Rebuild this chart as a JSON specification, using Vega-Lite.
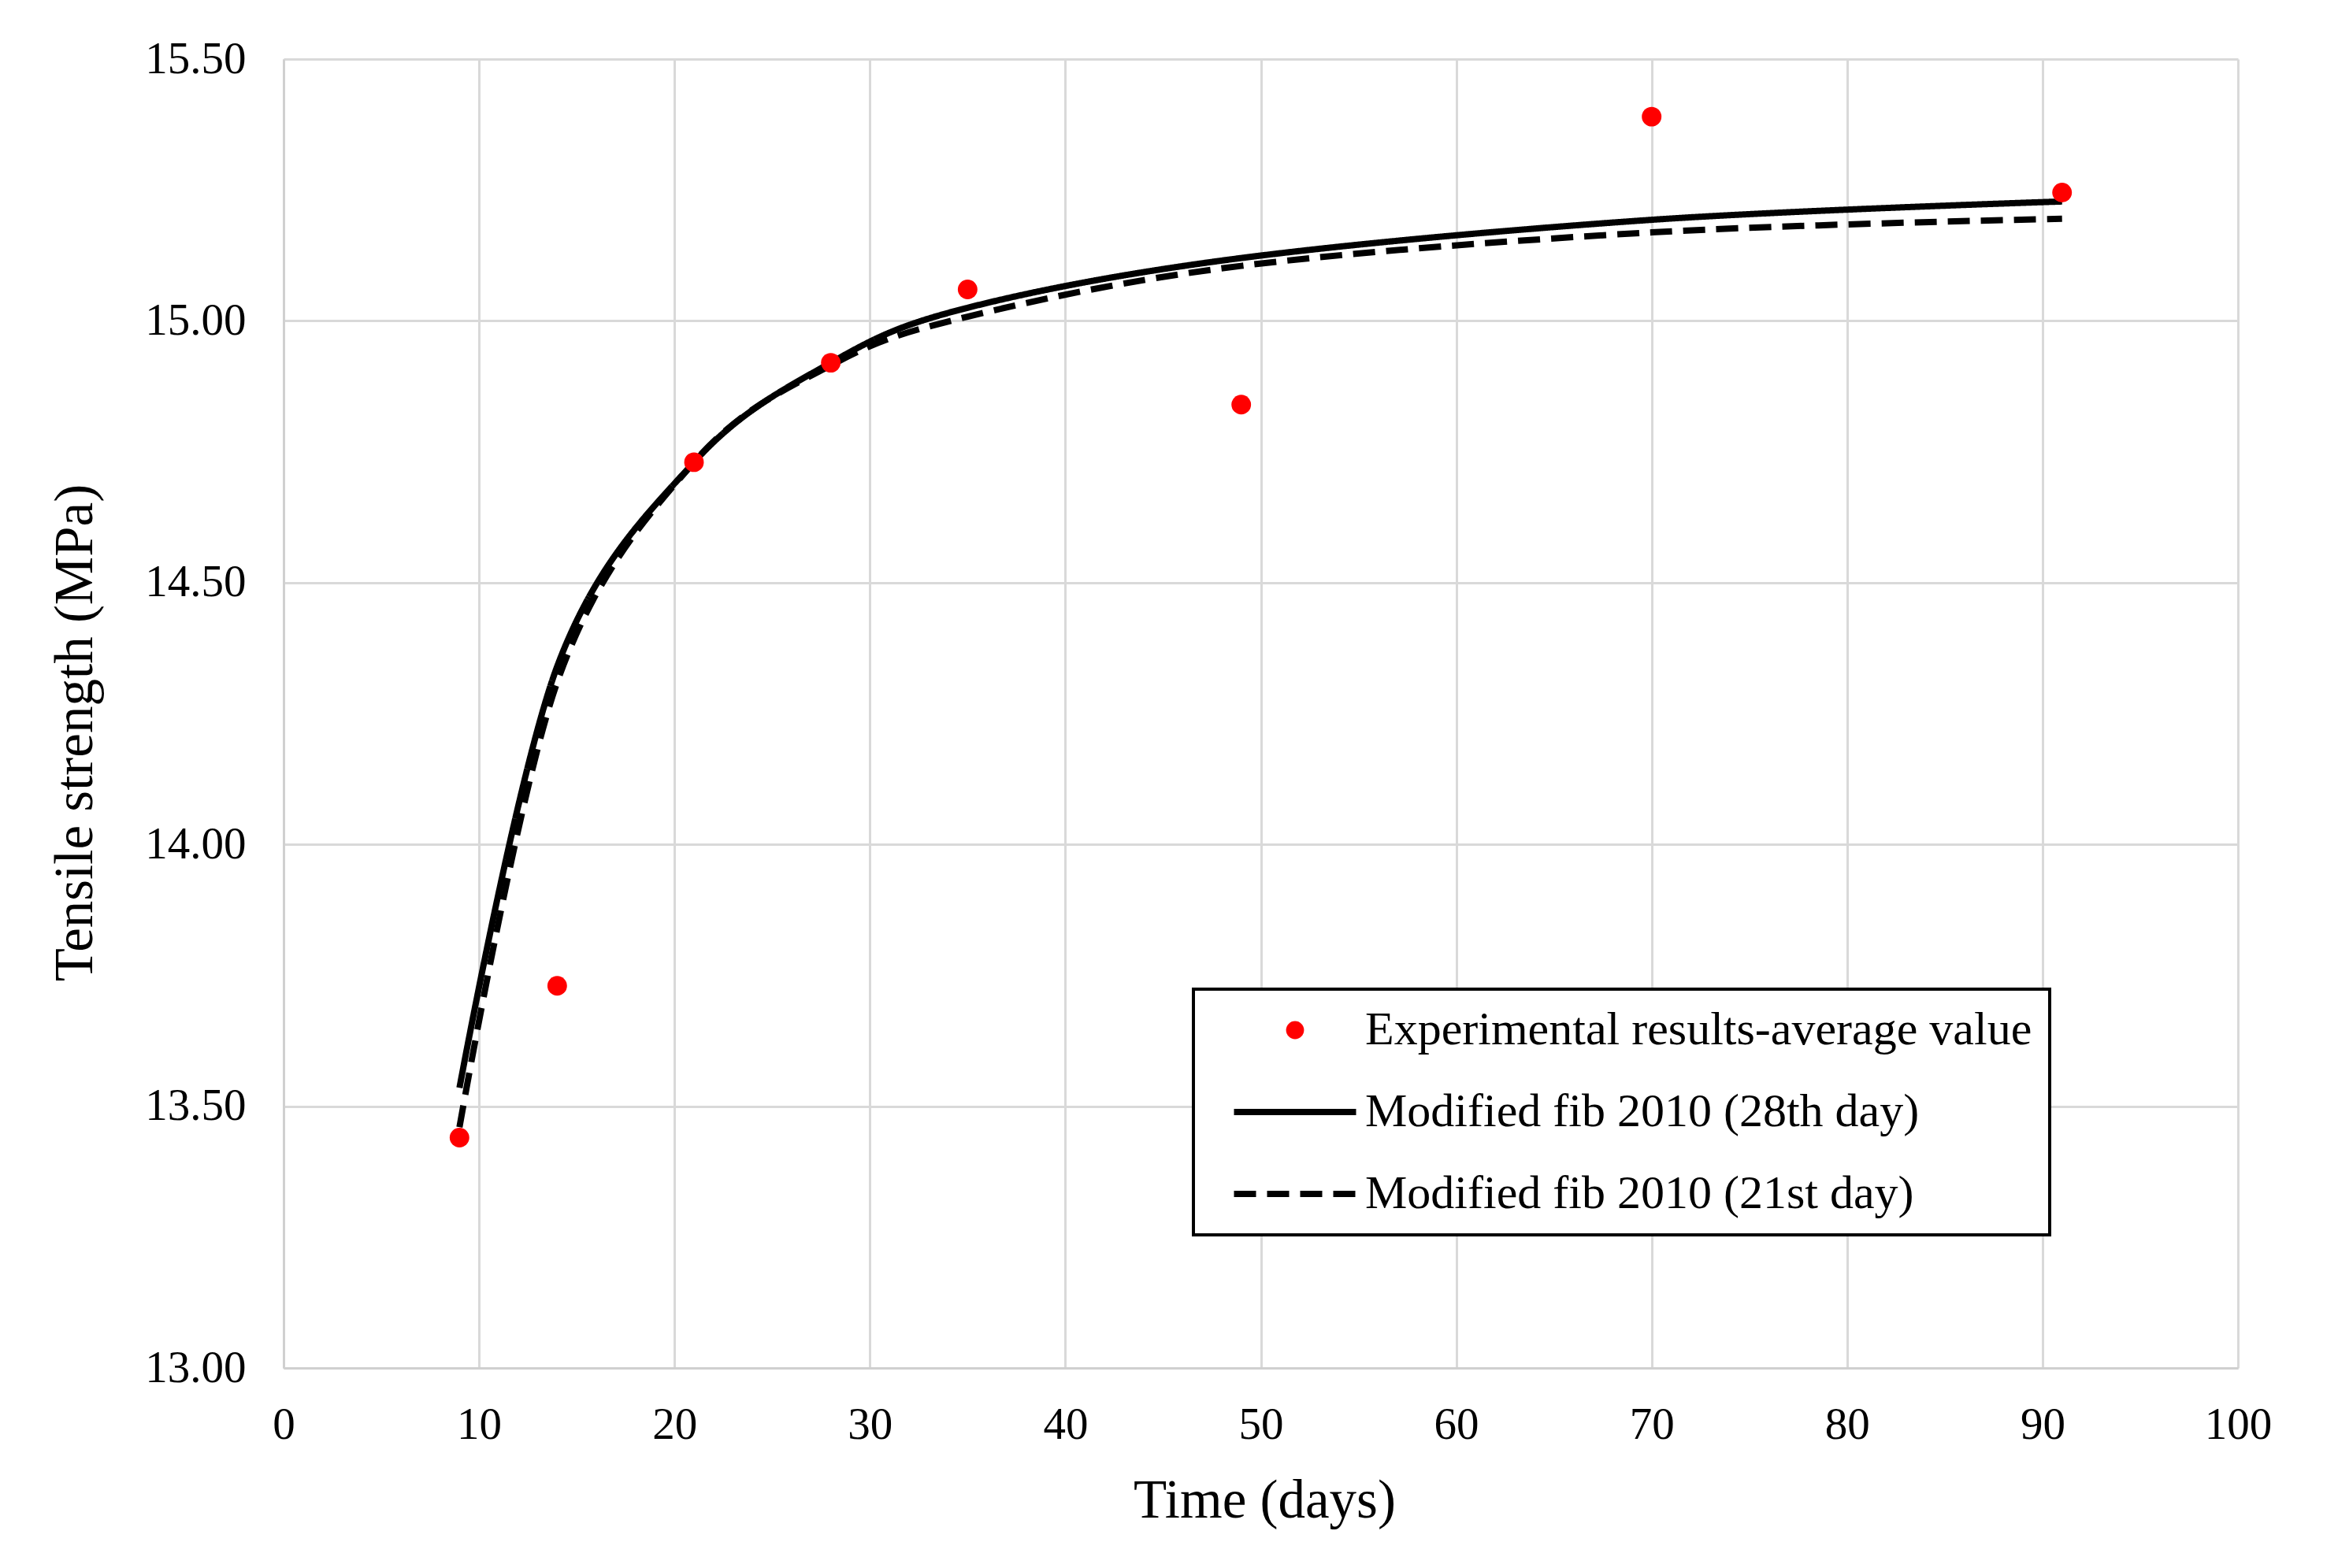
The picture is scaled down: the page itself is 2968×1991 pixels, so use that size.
{
  "$schema": "https://vega.github.io/schema/vega-lite/v6.json",
  "width": 2481,
  "height": 1662,
  "autosize": {"type": "none"},
  "padding": {"left": 360, "top": 75, "right": 127, "bottom": 254},
  "background": "white",
  "datasets": {
    "exp": [
      {"t": 9, "v": 13.44, "series": "Experimental results-average value"},
      {"t": 14, "v": 13.73, "series": "Experimental results-average value"},
      {"t": 21, "v": 14.73, "series": "Experimental results-average value"},
      {"t": 28, "v": 14.92, "series": "Experimental results-average value"},
      {"t": 35, "v": 15.06, "series": "Experimental results-average value"},
      {"t": 49, "v": 14.84, "series": "Experimental results-average value"},
      {"t": 70, "v": 15.39, "series": "Experimental results-average value"},
      {"t": 91, "v": 15.245, "series": "Experimental results-average value"}
    ],
    "model": [
      {"t": 9, "v": 13.535, "series": "Modified fib 2010 (28th day)"},
      {"t": 14, "v": 14.34, "series": "Modified fib 2010 (28th day)"},
      {"t": 21, "v": 14.73, "series": "Modified fib 2010 (28th day)"},
      {"t": 28, "v": 14.92, "series": "Modified fib 2010 (28th day)"},
      {"t": 35, "v": 15.025, "series": "Modified fib 2010 (28th day)"},
      {"t": 49, "v": 15.12, "series": "Modified fib 2010 (28th day)"},
      {"t": 70, "v": 15.193, "series": "Modified fib 2010 (28th day)"},
      {"t": 91, "v": 15.228, "series": "Modified fib 2010 (28th day)"},
      {"t": 9, "v": 13.46, "series": "Modified fib 2010 (21st day)"},
      {"t": 14, "v": 14.31, "series": "Modified fib 2010 (21st day)"},
      {"t": 21, "v": 14.73, "series": "Modified fib 2010 (21st day)"},
      {"t": 28, "v": 14.915, "series": "Modified fib 2010 (21st day)"},
      {"t": 35, "v": 15.008, "series": "Modified fib 2010 (21st day)"},
      {"t": 49, "v": 15.105, "series": "Modified fib 2010 (21st day)"},
      {"t": 70, "v": 15.169, "series": "Modified fib 2010 (21st day)"},
      {"t": 91, "v": 15.195, "series": "Modified fib 2010 (21st day)"}
    ]
  },
  "encoding": {
    "x": {
      "field": "t", "type": "quantitative",
      "scale": {"domain": [0, 100], "nice": false, "zero": false},
      "axis": {
        "values": [0, 10, 20, 30, 40, 50, 60, 70, 80, 90, 100],
        "title": "Time (days)",
        "titleX": 1245, "titleY": 189, "titleAlign": "center", "titleBaseline": "alphabetic",
        "labelPadding": 44, "labelFlush": false, "labelOverlap": false
      }
    },
    "y": {
      "field": "v", "type": "quantitative",
      "scale": {"domain": [13, 15.5], "nice": false, "zero": false},
      "axis": {
        "values": [13, 13.5, 14, 14.5, 15, 15.5],
        "format": ".2f",
        "title": "Tensile strength (MPa)",
        "titleX": -244, "titleY": 855, "titleAngle": -90, "titleAlign": "center", "titleBaseline": "alphabetic",
        "labelPadding": 48, "labelFlush": false, "labelOverlap": false
      }
    },
    "color": {
      "field": "series", "type": "nominal",
      "scale": {
        "domain": ["Experimental results-average value", "Modified fib 2010 (28th day)", "Modified fib 2010 (21st day)"],
        "range": ["#ff0000", "#000000", "#000000"]
      },
      "legend": {
        "orient": "none", "legendX": 1155, "legendY": 1181,
        "title": null,
        "symbolType": "stroke", "symbolSize": 24025, "symbolStrokeWidth": 8,
        "labelFont": "Liberation Serif", "labelFontSize": 60, "labelColor": "#000000", "labelLimit": 0,
        "labelOffset": 59, "symbolOffset": 77,
        "padding": 22, "rowPadding": 44,
        "strokeColor": "#000000", "fillColor": "#ffffff",
        "encode": {
          "legend": {"update": {"strokeWidth": {"value": 4}}},
          "symbols": {"update": {
            "shape": {"signal": "datum.value === 'Experimental results-average value' ? 'circle' : 'stroke'"},
            "size": {"signal": "datum.value === 'Experimental results-average value' ? 520 : 24025"},
            "fill": {"signal": "datum.value === 'Experimental results-average value' ? '#ff0000' : 'transparent'"},
            "stroke": {"signal": "datum.value === 'Experimental results-average value' ? 'transparent' : '#000000'"},
            "strokeDash": {"signal": "datum.value === 'Modified fib 2010 (21st day)' ? [28, 14] : [1, 0]"},
            "strokeWidth": {"signal": "datum.value === 'Experimental results-average value' ? 0 : 8"},
            "opacity": {"value": 1}
          }}
        }
      }
    }
  },
  "layer": [
    {
      "data": {"name": "model"},
      "mark": {"type": "line", "interpolate": "cardinal", "tension": 0, "strokeWidth": 8},
      "encoding": {
        "strokeDash": {
          "field": "series", "type": "nominal",
          "scale": {
            "domain": ["Modified fib 2010 (28th day)", "Modified fib 2010 (21st day)"],
            "range": [[1, 0], [28, 14]]
          },
          "legend": null
        }
      }
    },
    {
      "data": {"name": "exp"},
      "mark": {"type": "point", "filled": true, "size": 620, "opacity": 1, "shape": "circle"}
    }
  ],
  "config": {
    "view": {"stroke": null},
    "font": "Liberation Serif",
    "axis": {
      "grid": true, "gridColor": "#d9d9d9", "gridWidth": 3,
      "domain": true, "domainColor": "#d0d0d0", "domainWidth": 3,
      "ticks": false,
      "labelFont": "Liberation Serif", "labelFontSize": 57, "labelColor": "#000000",
      "titleFont": "Liberation Serif", "titleFontSize": 69, "titleFontWeight": "normal", "titleColor": "#000000"
    }
  }
}
